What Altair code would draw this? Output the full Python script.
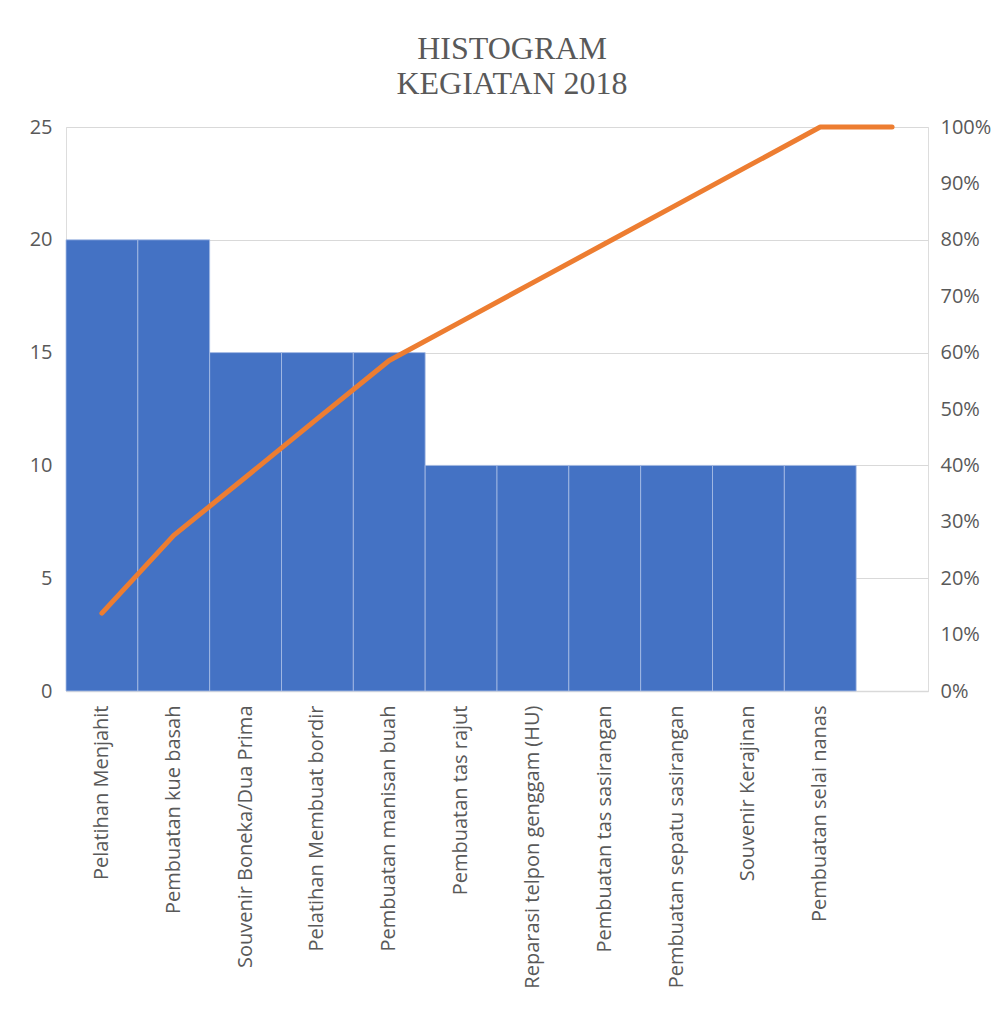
import altair as alt
import pandas as pd

categories = [
    "Pelatihan Menjahit",
    "Pembuatan kue basah",
    "Souvenir Boneka/Dua Prima",
    "Pelatihan Membuat bordir",
    "Pembuatan manisan buah",
    "Pembuatan tas rajut",
    "Reparasi telpon genggam (HU)",
    "Pembuatan tas sasirangan",
    "Pembuatan sepatu sasirangan",
    "Souvenir Kerajinan",
    "Pembuatan selai nanas",
]
counts = [20, 20, 15, 15, 15, 10, 10, 10, 10, 10, 10]
cumulative_pct = [0.138, 0.276, 0.379, 0.483, 0.586, 0.655, 0.724, 0.793, 0.862, 0.931, 1.0, 1.0]
extra_slot = " "
x_domain = categories + [extra_slot]

bars_df = pd.DataFrame({"kategori": categories, "jumlah": counts})
line_df = pd.DataFrame({"kategori": x_domain, "kumulatif": cumulative_pct})

FONT = "Open Sans"
GRAY = "#595959"
FS = 20

x_enc = alt.X(
    "kategori:N",
    sort=x_domain,
    scale=alt.Scale(domain=x_domain, paddingInner=0, paddingOuter=0),
    axis=alt.Axis(
        title=None,
        labelAngle=-90,
        labelAlign="right",
        labelBaseline="middle",
        labelPadding=14,
        labelFontSize=FS,
        labelFont=FONT,
        labelColor=GRAY,
        labelLimit=400,
        ticks=False,
        domainColor="#D9D9D9",
        domainWidth=1.5,
        grid=False,
    ),
)

bars = alt.Chart(bars_df).mark_bar(
    color="#4472C4", stroke="#A9BEE6", strokeWidth=0.8
).encode(
    x=x_enc,
    y=alt.Y(
        "jumlah:Q",
        scale=alt.Scale(domain=[0, 25], nice=False),
        axis=alt.Axis(
            title=None,
            values=[0, 5, 10, 15, 20, 25],
            labelFontSize=FS,
            labelFont=FONT,
            labelColor=GRAY,
            labelPadding=14,
            ticks=False,
            domain=False,
            grid=True,
            gridColor="#D9D9D9",
            gridWidth=1.2,
        ),
    ),
)

line = alt.Chart(line_df).mark_line(
    color="#ED7D31", strokeWidth=5, strokeCap="round", strokeJoin="round"
).encode(
    x=alt.X("kategori:N", sort=x_domain),
    y=alt.Y(
        "kumulatif:Q",
        scale=alt.Scale(domain=[0, 1], nice=False),
        axis=alt.Axis(
            title=None,
            orient="right",
            format=".0%",
            values=[0, 0.1, 0.2, 0.3, 0.4, 0.5, 0.6, 0.7, 0.8, 0.9, 1.0],
            labelFontSize=FS,
            labelFont=FONT,
            labelColor=GRAY,
            labelPadding=12,
            ticks=False,
            domain=False,
            grid=False,
        ),
    ),
)

chart = (
    alt.layer(bars, line)
    .resolve_scale(y="independent")
    .properties(
        width=862,
        height=564,
        autosize=alt.AutoSizeParams(type="none"),
        padding={"left": 58, "top": 119, "right": 69, "bottom": 310},
        title=alt.TitleParams(
            text=["HISTOGRAM", "KEGIATAN 2018"],
            font="Liberation Serif",
            fontSize=32,
            fontWeight="normal",
            color=GRAY,
            lineHeight=35,
            anchor="middle",
            dx=15,
            offset=16,
        ),
    )
    .configure_view(stroke="#D9D9D9", strokeWidth=1.2)
    .configure(background="white")
)

chart.save("out.html", embed_options={"renderer": "svg", "actions": False})
